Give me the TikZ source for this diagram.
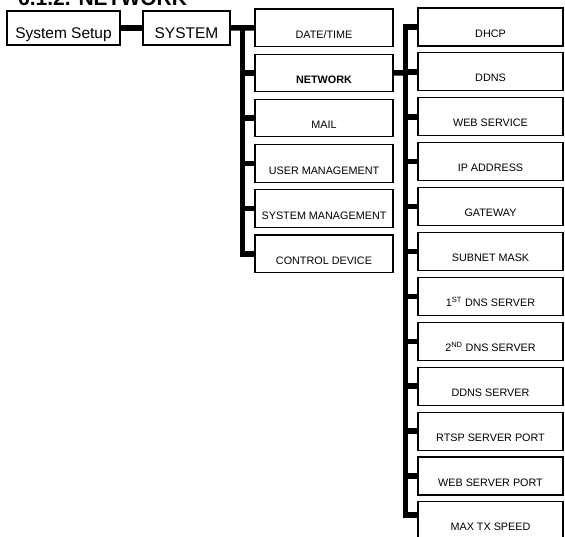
\documentclass[tikz,border=0pt]{standalone}
\usepackage{fontspec}
\setmainfont{Liberation Sans}
\usetikzlibrary{calc}

\tikzset{
  box/.style={draw=black, line width=1.1pt, inner sep=0pt, fill=white,
    font=\fontsize{10.8}{12}\selectfont},
  topbox/.style={box, minimum width=#1, text height=27pt, text depth=7pt,
    font=\fontsize{15.5}{17}\selectfont},
  menubox/.style={box, minimum width=138pt, text height=29.5pt, text depth=8pt},
  itembox/.style={box, minimum width=145pt, text height=29pt, text depth=9pt},
  conn/.style={line width=5.5pt},
}

\begin{document}
\begin{tikzpicture}[x=1pt, y=-1pt]
    \useasboundingbox (0,0) rectangle (565,536);
    \clip (0,0) rectangle (565,536);

    % Title (cut at the top edge)
    \node[anchor=base west, inner sep=0pt, font=\bfseries\fontsize{21}{21}\selectfont] (title) at (18,5) {6.1.2. NETWORK};

    % First level
    \node[topbox=113pt] (setup) at (63.5,28) {System Setup};
    \node[topbox=87pt] (system) at (186.5,28) {SYSTEM};

    % Second level
    \node[menubox] (datetime) at (324,27.75) {DATE/TIME};
    \node[menubox, font=\bfseries\fontsize{10.8}{12}\selectfont] (network) at (324,72.95) {NETWORK};
    \node[menubox] (mail) at (324,118.15) {MAIL};
    \node[menubox] (usermgmt) at (324,163.35) {USER MANAGEMENT};
    \node[menubox] (sysmgmt) at (324,208.55) {SYSTEM MANAGEMENT};
    \node[menubox] (control) at (324,253.75) {CONTROL DEVICE};

    % Network items
    \node[itembox] (dhcp) at (490.5,27) {DHCP};
    \node[itembox] (ddns) at (490.5,71.9) {DDNS};
    \node[itembox] (websvc) at (490.5,116.8) {WEB SERVICE};
    \node[itembox] (ipaddr) at (490.5,161.7) {IP ADDRESS};
    \node[itembox] (gateway) at (490.5,206.6) {GATEWAY};
    \node[itembox] (subnet) at (490.5,251.5) {SUBNET MASK};
    \node[itembox] (dnsone) at (490.5,296.4) {1\textsuperscript{ST} DNS SERVER};
    \node[itembox] (dnstwo) at (490.5,341.3) {2\textsuperscript{ND} DNS SERVER};
    \node[itembox] (ddnssrv) at (490.5,386.2) {DDNS SERVER};
    \node[itembox] (rtsp) at (490.5,431.1) {RTSP SERVER PORT};
    \node[itembox] (webport) at (490.5,476) {WEB SERVER PORT};
    \node[itembox] (maxtx) at (490.5,520.9) {MAX TX SPEED};

    % Connectors
    \draw[conn] (setup.east) -- (system.west);

    \coordinate (busA) at ($(system.east)!0.5!(datetime.west)$);
    \draw[conn] (system.east) -- (datetime.west);
    \foreach \n in {network,mail,usermgmt,sysmgmt,control}
        \draw[conn] (busA) |- (\n.west);

    \coordinate (busB) at ($(network.east)!0.5!(network.east -| dhcp.west)$);
    \draw[conn] (network.east) -- (busB);
    \foreach \n in {dhcp,ddns,websvc,ipaddr,gateway,subnet,dnsone,dnstwo,ddnssrv,rtsp,webport}
        \draw[conn] (busB) |- (\n.west);
    \draw[conn] (busB) |- ([yshift=6pt]maxtx.west);
\end{tikzpicture}
\end{document}
